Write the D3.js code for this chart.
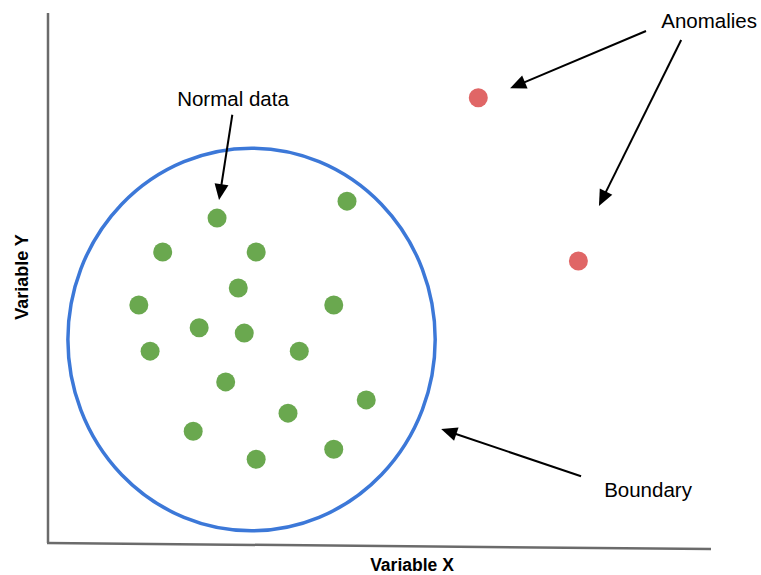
<!DOCTYPE html>
<html>
<head>
<meta charset="utf-8">
<script src="https://cdn.jsdelivr.net/npm/d3@7"></script>
<style>
html,body{margin:0;padding:0;background:#fff;}
svg{display:block;font-family:"Liberation Sans",Arial,sans-serif;}
</style>
</head>
<body>
<svg id="chart" width="761" height="575"></svg>
<script>
// Normal data (green)
const normalX = [25.5, 45.1, 17.3, 31.4, 28.7, 13.7, 43.1, 22.8, 29.6, 15.4, 37.9, 26.8, 48.0, 36.2, 21.9, 31.4, 43.1];
const normalY = [61.3, 64.5, 54.9, 54.9, 48.1, 44.9, 44.9, 40.6, 39.6, 36.2, 36.2, 30.4, 27.0, 24.5, 21.1, 15.8, 17.7];
// Anomalies (red)
const anomalyX = [64.9, 80.0];
const anomalyY = [84.0, 53.2];
// Boundary ellipse: center and radii (data units)
const boundary = [30.7, 38.4, 27.7, 36.1];
// Annotation labels
const labelText = ["Anomalies", "Normal data", "Boundary"];
const labelX = [92.5, 27.9, 90.5];
const labelY = [97.2, 82.5, 8.7];
// Arrows: from (x1,y1) to tip (x2,y2)
const arrowX1 = [90.2, 95.5, 27.8, 80.4];
const arrowY1 = [96.6, 94.9, 80.8, 12.6];
const arrowX2 = [69.7, 83.1, 25.8, 59.3];
const arrowY2 = [85.8, 63.6, 64.7, 21.5];
const axisTitles = ["Variable X", "Variable Y"];

const svg = d3.select("#chart");
const x = d3.scaleLinear().domain([0, 100]).range([48, 711]);
const y = d3.scaleLinear().domain([0, 100]).range([543, 13]);

// Axes lines
svg.append("line").attr("x1", x(0)).attr("y1", y(100)).attr("x2", x(0)).attr("y2", y(0))
  .attr("stroke", "#6b6b6b").attr("stroke-width", 2.5);
svg.append("line").attr("x1", x(0) - 1).attr("y1", y(0)).attr("x2", x(100)).attr("y2", y(0) + 6)
  .attr("stroke", "#6b6b6b").attr("stroke-width", 2.5);

// Axis titles
svg.append("text").attr("x", 412).attr("y", 571).attr("text-anchor", "middle")
  .attr("font-weight", "bold").attr("font-size", 17.5).attr("fill", "#000").text(axisTitles[0]);
svg.append("text").attr("transform", "translate(28,277) rotate(-90)").attr("text-anchor", "middle")
  .attr("font-weight", "bold").attr("font-size", 18).attr("fill", "#000").text(axisTitles[1]);

// Boundary
svg.append("ellipse")
  .attr("cx", x(boundary[0])).attr("cy", y(boundary[1]))
  .attr("rx", x(boundary[0] + boundary[2]) - x(boundary[0]))
  .attr("ry", y(boundary[1]) - y(boundary[1] + boundary[3]))
  .attr("fill", "none").attr("stroke", "#3c78d8").attr("stroke-width", 3.5);

// Points
svg.append("g").selectAll("circle").data(normalX.map((d, i) => [d, normalY[i]])).join("circle")
  .attr("cx", d => x(d[0])).attr("cy", d => y(d[1])).attr("r", 9.5).attr("fill", "#6aa84f");
svg.append("g").selectAll("circle").data(anomalyX.map((d, i) => [d, anomalyY[i]])).join("circle")
  .attr("cx", d => x(d[0])).attr("cy", d => y(d[1])).attr("r", 9.5).attr("fill", "#e06666");

// Arrows
const headLen = 16, headHalf = 7;
arrowX1.forEach((_, i) => {
  const sx = x(arrowX1[i]), sy = y(arrowY1[i]), tx = x(arrowX2[i]), ty = y(arrowY2[i]);
  const dx = tx - sx, dy = ty - sy, L = Math.hypot(dx, dy);
  const ux = dx / L, uy = dy / L;
  const bx = tx - ux * headLen, by = ty - uy * headLen;
  svg.append("line").attr("x1", sx).attr("y1", sy).attr("x2", bx + ux * 2).attr("y2", by + uy * 2)
    .attr("stroke", "#000").attr("stroke-width", 2);
  svg.append("path")
    .attr("d", `M${tx},${ty}L${bx - uy * headHalf},${by + ux * headHalf}L${bx + uy * headHalf},${by - ux * headHalf}Z`)
    .attr("fill", "#000");
});

// Labels
const anchors = ["start", "middle", "middle"];
labelText.forEach((t, i) => {
  svg.append("text").attr("x", x(labelX[i])).attr("y", y(labelY[i]))
    .attr("text-anchor", anchors[i]).attr("font-size", 20.5).attr("fill", "#000").text(t);
});
</script>
</body>
</html>
